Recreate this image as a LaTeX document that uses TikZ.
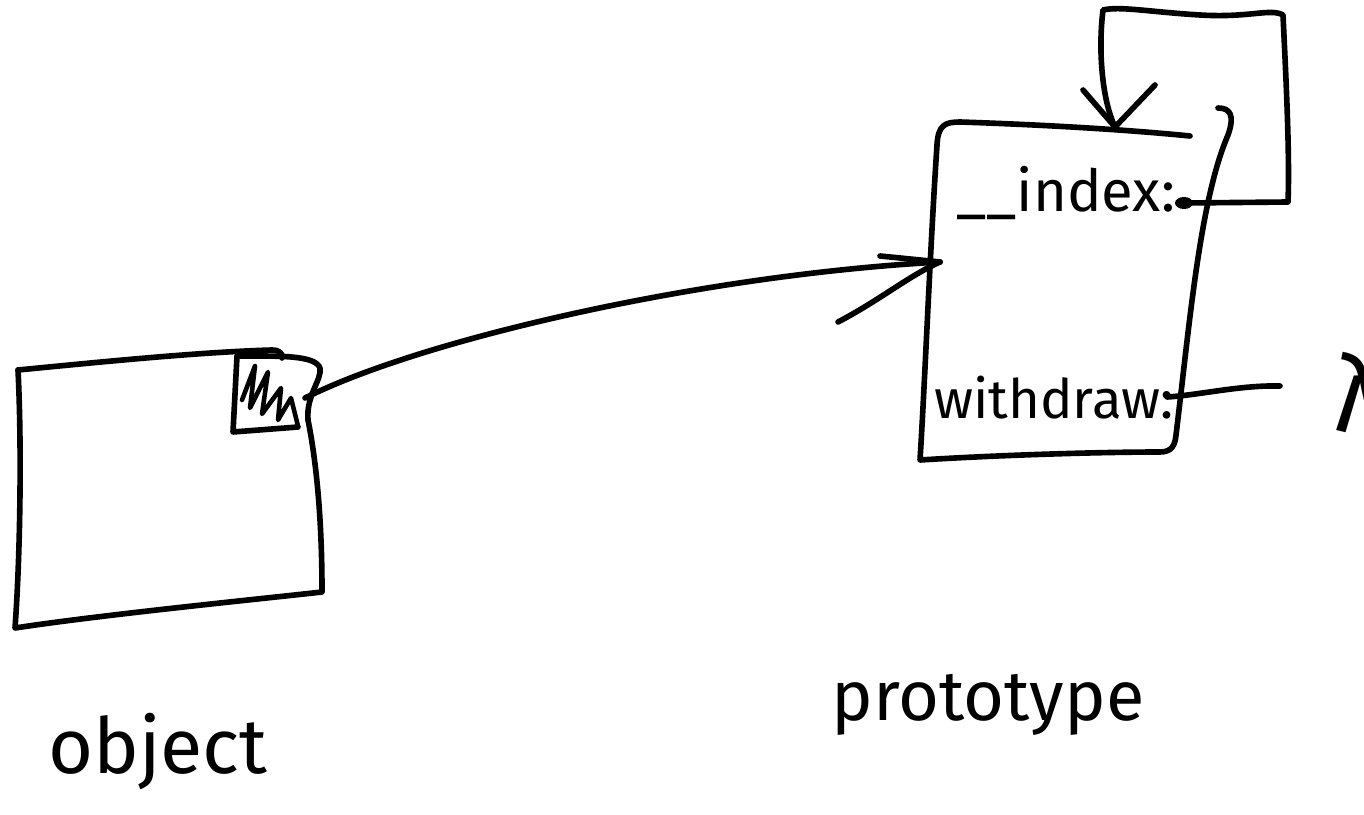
\documentclass[tikz,border=0pt]{standalone}
\usepackage{fontspec}
\setmainfont{Fira Sans}
\begin{document}
\begin{tikzpicture}[x=0.02cm,y=-0.02cm,
  pen/.style={line width=3.2pt,line cap=round,line join=round},
  slotlabel/.style={inner sep=0pt,font=\fontsize{31}{34}\selectfont},
  caption/.style={inner sep=0pt,font=\fontsize{44}{50}\selectfont}]
\useasboundingbox (0,0) rectangle (1364,814);

% ---- the object ----
\draw[pen] (18,370) .. controls (100,362) and (200,352) .. (272,350)
  .. controls (280,350) and (283,354) .. (282,358);
\draw[pen] (18,370) .. controls (22,450) and (20,560) .. (15,628)
  .. controls (100,615) and (250,600) .. (322,592)
  .. controls (322,530) and (318,470) .. (308,420)
  .. controls (306,395) and (322,380) .. (320,368)
  .. controls (315,355) and (280,356) .. (237,356)
  -- (233,432) -- (298,427);
% hatched slot holding the link
\draw[pen,line width=2.6pt] (242,400) -- (255,366) -- (250,408) -- (268,372)
  -- (262,414) -- (281,388) -- (278,420) -- (291,398) -- (298,426);
\coordinate (slot) at (305,398);
\node[caption] (objlabel) at (158,752) {object};

% ---- the prototype ----
\draw[pen] (937,145) .. controls (938,125) and (945,122) .. (960,122)
  .. controls (1050,125) and (1130,130) .. (1190,136);
\draw[pen] (937,145) .. controls (930,250) and (925,380) .. (920,460)
  .. controls (1000,455) and (1100,452) .. (1160,452)
  .. controls (1172,452) and (1175,445) .. (1176,435)
  .. controls (1190,320) and (1200,200) .. (1228,135)
  .. controls (1235,115) and (1230,108) .. (1218,108);
\coordinate (protoin) at (940,262);
\coordinate (prototop) at (1115,127);
\node[slotlabel,font=\fontsize{33}{36}\selectfont] (index) at (1066,193) {\_\_index:};
\node[slotlabel] (withdraw) at (1054,398) {withdraw:};
\node[caption,font=\fontsize{40}{46}\selectfont] (protolabel) at (988,705) {prototype};

% link from the object's slot to the prototype
\draw[pen] (slot) .. controls (420,340) and (700,275) .. (protoin);
\draw[pen] (880,256) -- (protoin);
\draw[pen] (838,322) .. controls (880,300) and (910,275) .. (protoin);

% __index points back at the prototype itself
\coordinate (dot) at (1184,203);
\fill (dot) ellipse (9 and 6);
\draw[pen] (dot) -- (1288,202) .. controls (1290,150) and (1285,60) .. (1283,15)
  .. controls (1270,8) and (1250,18) .. (1200,15)
  .. controls (1150,12) and (1120,6) .. (1103,10)
  .. controls (1098,50) and (1102,100) .. (prototop);
\draw[pen] (1083,90) -- (prototop) -- (1155,85);

% withdraw holds a function
\coordinate (wend) at (1167,397);
\draw[pen] (wend) .. controls (1200,395) and (1240,385) .. (1280,386);
\node[inner sep=0pt,font=\fontsize{60}{60}\selectfont] (fn) at (1360,392) {λ};
\end{tikzpicture}
\end{document}
